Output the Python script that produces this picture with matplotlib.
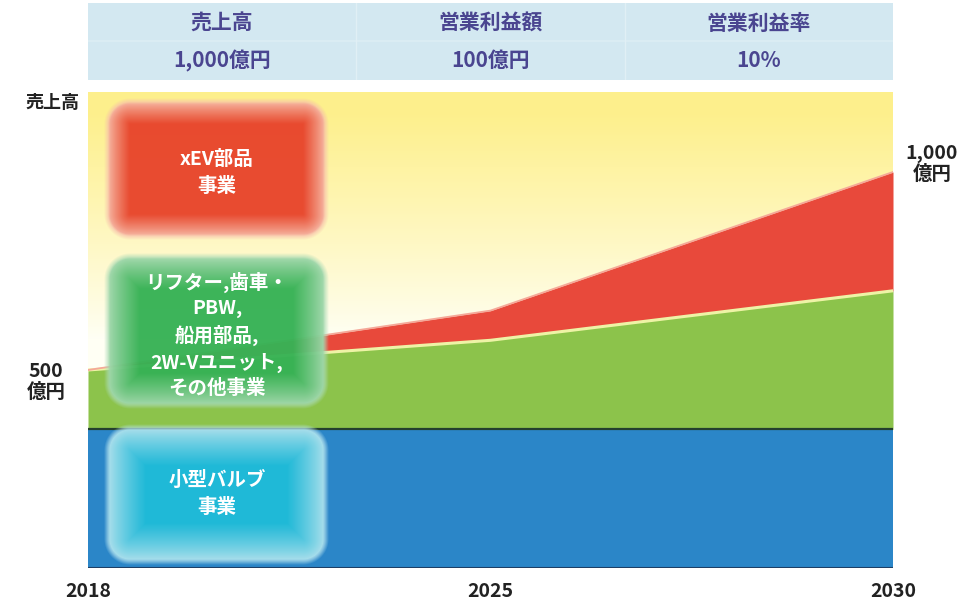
import numpy as np
import matplotlib
matplotlib.use('Agg')
import matplotlib.pyplot as plt

plt.rcParams['font.family'] = ['Noto Sans CJK JP', 'DejaVu Sans']

# data (億円), stacked from the bottom
years = ['2018', '2025', '2030']
small_valve = [350, 350, 350]
other_biz = [150, 225, 350]
xev_parts = [0, 75, 300]
y_max = 1202

header_titles = ['売上高', '営業利益額', '営業利益率']
header_values = ['1,000億円', '100億円', '10%']

W, H = 967, 609
fig = plt.figure(figsize=(W / 100, H / 100), dpi=100)

# main area chart
ax = fig.add_axes([88 / W, 41 / H, 805 / W, 476 / H])
x = np.arange(len(years))
top1 = np.array(small_valve)
top2 = top1 + np.array(other_biz)
top3 = top2 + np.array(xev_parts)

# yellow -> white background
v = np.linspace(y_max, 0, 300)
f = np.clip((v - 580) / (1150 - 580), 0, 1) ** 0.9
yellow = np.array([0.995, 0.94, 0.55])
white = np.array([1.0, 1.0, 0.96])
bg = white + (yellow - white) * f[:, None]
ax.imshow(bg[:, None, :], extent=[0, 2, 0, y_max], aspect='auto', zorder=0)

ax.fill_between(x, 0, top1, color='#2b86c8', lw=0, zorder=2)
ax.fill_between(x, top1, top2, color='#8cc34b', lw=0, zorder=2)
ax.fill_between(x, top2, top3, color='#e8493b', lw=0, zorder=2)
ax.plot(x, top1, color='#24402e', lw=1.6, zorder=3)
ax.plot(x, top2, color='#eef3a6', lw=2.2, zorder=3)
ax.plot(x, top3, color='#f5a898', lw=1.3, zorder=3)
ax.axhline(0, color='#1d3f66', lw=1.5, zorder=3)

ax.set_xlim(0, 2)
ax.set_ylim(0, y_max)
ax.set_yticks([])
ax.set_xticks(x)
ax.set_xticklabels(years, fontsize=14, fontweight='bold', color='#222222')
ax.tick_params(axis='x', length=0, pad=10)
for s in ax.spines.values():
    s.set_visible(False)

# header table
hax = fig.add_axes([88 / W, (H - 80) / H, 805 / W, 77 / H])
hax.set_xlim(0, 3)
hax.set_ylim(0, 1)
hax.axis('off')
hax.add_patch(plt.Rectangle((0, 0), 3, 1, color='#d3e8f1', lw=0))
hax.axhline(0.5, color='#dcedf4', lw=1.2)
for i in range(1, 3):
    hax.axvline(i, color='#e0eff5', lw=1.0)
for i in range(3):
    hax.text(i + 0.5, 0.74, header_titles[i], ha='center', va='center',
             fontsize=15, fontweight='bold', color='#4a4590')
    hax.text(i + 0.5, 0.25, header_values[i], ha='center', va='center',
             fontsize=15, fontweight='bold', color='#4a4590')

# overlay in pixel coordinates for the labels and glowing boxes
oax = fig.add_axes([0, 0, 1, 1], zorder=5)
oax.set_xlim(0, W)
oax.set_ylim(H, 0)
oax.axis('off')


def soft_box(x0, y0, x1, y1, r, center, edge, feather):
    m = 6
    xs = np.arange(x0 - m, x1 + m) + 0.5
    ys = np.arange(y0 - m, y1 + m) + 0.5
    px, py = np.meshgrid(xs, ys)
    cx, cy = (x0 + x1) / 2, (y0 + y1) / 2
    qx = np.abs(px - cx) - ((x1 - x0) / 2 - r)
    qy = np.abs(py - cy) - ((y1 - y0) / 2 - r)
    d = np.sqrt(np.maximum(qx, 0) ** 2 + np.maximum(qy, 0) ** 2) \
        + np.minimum(np.maximum(qx, qy), 0) - r
    t = np.clip(-d / feather, 0, 1) ** 0.8
    c0 = np.array(matplotlib.colors.to_rgb(center))
    c1 = np.array(matplotlib.colors.to_rgb(edge))
    rgba = np.zeros(px.shape + (4,))
    rgba[..., :3] = c1 + (c0 - c1) * t[..., None]
    rgba[..., 3] = np.clip((-d + 4) / 6, 0, 1) * 0.97
    oax.imshow(rgba, extent=[x0 - m, x1 + m, y1 + m, y0 - m],
               interpolation='bilinear', zorder=1)


soft_box(108, 102, 325, 236, 22, '#e8452c', '#f7bcaa', 22)
soft_box(108, 257, 325, 405, 22, '#37b255', '#aadbb4', 32)
soft_box(108, 428, 325, 561, 22, '#1fbbd8', '#b8e5ef', 38)

box_style = dict(ha='center', va='center', fontsize=14, fontweight='bold',
                 color='white', zorder=3)
oax.text(217, 173, 'xEV部品\n事業', linespacing=1.5, **box_style)
oax.text(217, 335, 'リフター,歯車・\nPBW,\n船用部品,\n2W-Vユニット,\nその他事業',
         linespacing=1.4, **box_style)
oax.text(217, 494, '小型バルブ\n事業', linespacing=1.5, **box_style)

label_style = dict(ha='center', va='center', fontweight='bold', color='#222222')
oax.text(52, 102, '売上高', fontsize=13, **label_style)
oax.text(46, 382, '500\n億円', fontsize=14, linespacing=1.1, **label_style)
oax.text(932, 164, '1,000\n億円', fontsize=14, linespacing=1.1, **label_style)

fig.savefig('out.png', dpi=100)
